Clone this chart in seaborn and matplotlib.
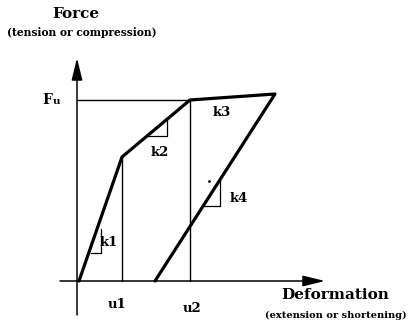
import numpy as np
import pandas as pd
import seaborn as sns
import matplotlib
matplotlib.use("Agg")
import matplotlib.pyplot as plt

# force-deformation path (origin at the axis crossing, units ~ pixels)
deform = [0, 43, 111, 196, 76]
force = [0, 124, 181, 187, 0]

u1, u2 = 43, 111
F1, Fu = 124, 181

# small slope triangles
k1_x, k1_y = [12, 22, 22], [28, 28, 52]
k2_x, k2_y = [68, 88, 88], [145, 145, 163]
k4_x, k4_y = [124, 141, 141], [75, 75, 102]

sns.set_theme(style="white")
plt.rcParams['font.family'] = ['DejaVu Serif', 'Liberation Serif']

fig = plt.figure(figsize=(4.09, 3.34), dpi=100)
ax = fig.add_axes([0, 0, 1, 1])
ax.set_xlim(-79, 330)
ax.set_ylim(-53, 281)
ax.axis('off')

df = pd.DataFrame({'deform': deform, 'force': force})
sns.lineplot(data=df, x='deform', y='force', sort=False, estimator=None,
             color='black', lw=2.3, ax=ax)

# axes with arrows
arr = dict(arrowstyle='-|>,head_length=0.9,head_width=0.22', mutation_scale=15,
           lw=1.1, color='black', shrinkA=0, shrinkB=0)
ax.annotate('', xy=(-2, 223), xytext=(-2, -34), arrowprops=arr)
ax.annotate('', xy=(246, 0), xytext=(-19, 0), arrowprops=arr)

# thin reference lines
ax.plot([-2, u2], [Fu, Fu], color='black', lw=1.0)
ax.plot([u1, u1], [0, F1], color='black', lw=1.0)
ax.plot([u2, u2], [0, Fu], color='black', lw=1.0)

for tx, ty in [(k1_x, k1_y), (k2_x, k2_y), (k4_x, k4_y)]:
    ax.plot(tx, ty, color='black', lw=0.9)
ax.plot([130], [100], marker='.', ms=2, color='black')

bold = dict(fontweight='bold', color='black')
ax.text(-3, 267, 'Force', ha='center', va='center', fontsize=11, **bold)
ax.text(3, 248, '(tension or compression)', ha='center', va='center', fontsize=7.7, **bold)
ax.text(-32, 181, 'F', ha='center', va='center', fontsize=10, **bold)
ax.text(-22, 179, 'u', ha='center', va='center', fontsize=7.5, **bold)

ax.text(30, 38, 'k1', ha='center', va='center', fontsize=9.5, **bold)
ax.text(81, 129, 'k2', ha='center', va='center', fontsize=9.5, **bold)
ax.text(143, 168, 'k3', ha='center', va='center', fontsize=9.5, **bold)
ax.text(160, 83, 'k4', ha='center', va='center', fontsize=9.5, **bold)

ax.text(38, -24, 'u1', ha='center', va='center', fontsize=9.5, **bold)
ax.text(113, -27, 'u2', ha='center', va='center', fontsize=9.5, **bold)
ax.text(256, -14, 'Deformation', ha='center', va='center', fontsize=11, **bold)
ax.text(257, -34, '(extension or shortening)', ha='center', va='center', fontsize=7.1, **bold)

fig.savefig('out.png', dpi=100)
